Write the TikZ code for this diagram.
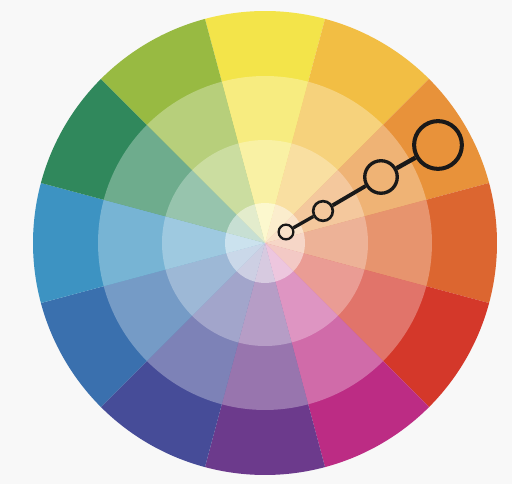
\documentclass[tikz,border=0pt]{standalone}
\usepackage{xcolor}
\usepackage{tikz}
\usetikzlibrary{calc}

\definecolor{paper}{RGB}{248,248,248}
\definecolor{wYellow}{RGB}{243,228,74}
\definecolor{wGold}{RGB}{242,190,68}
\definecolor{wOrange}{RGB}{232,146,58}
\definecolor{wVermilion}{RGB}{220,102,48}
\definecolor{wRed}{RGB}{212,56,42}
\definecolor{wMagenta}{RGB}{188,44,132}
\definecolor{wPurple}{RGB}{108,58,140}
\definecolor{wIndigo}{RGB}{70,76,152}
\definecolor{wBlue}{RGB}{58,112,174}
\definecolor{wCyan}{RGB}{61,147,194}
\definecolor{wGreen}{RGB}{48,136,92}
\definecolor{wLime}{RGB}{152,186,66}

\begin{document}
\begin{tikzpicture}[
  x=0.02cm, y=0.02cm,
  dot/.style={circle, draw=black!90, inner sep=0pt},
  link/.style={draw=black!90},
]
  \fill[paper] (0,0) rectangle (512,484);
  \coordinate (c) at (265,241);

  \foreach \r/\t in {232/100, 167/70, 103/50, 40/27}{
    \foreach \a/\col in {90/wYellow, 60/wGold, 30/wOrange, 0/wVermilion, -30/wRed, -60/wMagenta,
                         -90/wPurple, -120/wIndigo, -150/wBlue, 180/wCyan, 150/wGreen, 120/wLime}{
      \fill[\col!\t!white] (c) -- ++(\a-15:\r) arc[start angle=\a-15, end angle=\a+15, radius=\r] -- cycle;
    }
  }

  \node[dot, minimum size=8.4pt, line width=1.3pt] (s1) at (286,252) {};
  \node[dot, minimum size=11.2pt, line width=1.5pt] (s2) at (323,273) {};
  \node[dot, minimum size=18.5pt, line width=1.9pt] (s3) at (381,307) {};
  \node[dot, minimum size=27.2pt, line width=2.3pt] (s4) at (438,339) {};

  \draw[link, line width=1.9pt] (s1) -- (s2);
  \draw[link, line width=2.2pt] (s2) -- (s3);
  \draw[link, line width=2.5pt] (s3) -- (s4);
\end{tikzpicture}
\end{document}
